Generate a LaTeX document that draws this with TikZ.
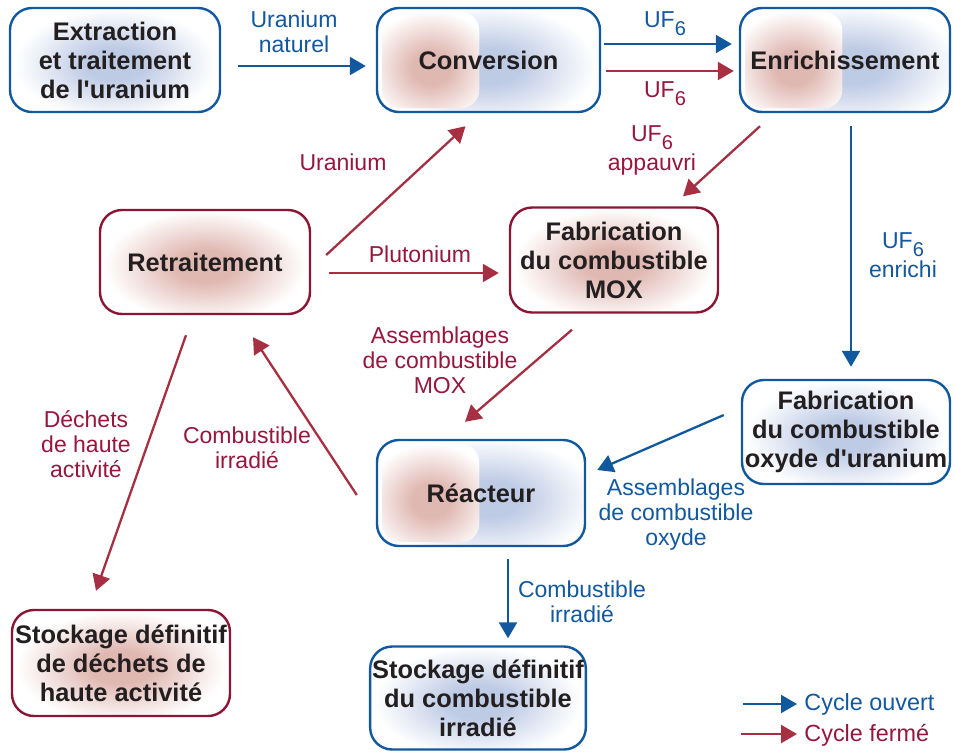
\documentclass[tikz,border=0pt]{standalone}
\usepackage{fontspec}
\setmainfont{Liberation Sans}[Ligatures=TeXOff]
\usetikzlibrary{arrows.meta,calc}
\definecolor{cycBlue}{RGB}{18,88,158}
\definecolor{cycRed}{RGB}{166,48,66}
\definecolor{cycRedTxt}{RGB}{150,22,62}
\definecolor{cycRedBd}{RGB}{140,20,52}
\definecolor{glowB}{RGB}{190,203,229}
\definecolor{glowR}{RGB}{224,184,178}
\definecolor{boxTxt}{RGB}{35,31,32}
\pgfdeclareradialshading{glowBs}{\pgfpoint{0bp}{0bp}}{color(0bp)=(glowB); color(7bp)=(glowB); color(24bp)=(white); color(50bp)=(white)}
\pgfdeclareradialshading{glowRs}{\pgfpoint{0bp}{0bp}}{color(0bp)=(glowR); color(7bp)=(glowR); color(24bp)=(white); color(50bp)=(white)}
\newcommand\ufSix{UF\raisebox{-4pt}{\fontsize{10}{10}\selectfont 6}}
% glows drawn inside the boxes
\newcommand\glowAt[4]{\shade[shading=#1] ($#2+(-#3,-#4)$) rectangle ($#2+(#3,#4)$);}
\newcommand\glowOne[1]{\glowAt{#1}{(path picture bounding box.center)+(0,-2pt)}{52pt}{29pt}}
\newcommand\glowMix{%
  \glowAt{glowBs}{(path picture bounding box.west)+(64pt,-3pt)}{48pt}{32pt}
  \begin{scope}
    \clip[rounded corners=9pt] ($(path picture bounding box.south west)+(2.5pt,2pt)$)
      rectangle ($(path picture bounding box.north west)+(51pt,-2pt)$);
    \fill[white] (path picture bounding box.south west) rectangle (path picture bounding box.north east);
    \glowAt{glowRs}{(path picture bounding box.west)+(27pt,-4pt)}{34pt}{30pt}
  \end{scope}}
\begin{document}
\begin{tikzpicture}[x=0.5pt,y=-0.5pt,
    cycBox/.style={rounded corners=11pt, line width=1.2pt, align=center, inner sep=1pt,
        font=\fontsize{12.7}{14.5}\selectfont\bfseries, text=boxTxt,
        minimum width=105pt, minimum height=52pt},
    cycBoxB/.style={cycBox, draw=cycBlue, path picture={\glowOne{glowBs}}},
    cycBoxR/.style={cycBox, draw=cycRedBd, path picture={\glowOne{glowRs}}},
    cycBoxM/.style={cycBox, draw=cycBlue, path picture={\glowMix}},
    cycArrB/.style={-{Triangle[length=8pt,width=9pt]}, line width=1.15pt, draw=cycBlue},
    cycArrR/.style={-{Triangle[length=8pt,width=9pt]}, line width=1.15pt, draw=cycRed},
    cycLblB/.style={font=\fontsize{11.5}{12.5}\selectfont, text=cycBlue, align=center, inner sep=0pt},
    cycLblR/.style={font=\fontsize{11.5}{12.5}\selectfont, text=cycRedTxt, align=center, inner sep=0pt},
]
\useasboundingbox (0,0) rectangle (954,752);
% boxes
\node[cycBoxB] (extr) at (115,60) {Extraction\\et traitement\\de l'uranium};
\node[cycBoxM, minimum width=111.5pt] (conv) at (488.5,60) {Conversion};
\node[cycBoxM] (enr) at (845,60) {Enrichissement};
\node[cycBoxR] (retr) at (205,262) {Retraitement};
\node[cycBoxR, minimum width=104pt, minimum height=52.5pt] (mox) at (614,260) {Fabrication\\du combustible\\MOX};
\node[cycBoxB, minimum width=104pt] (oxy) at (846,432) {Fabrication\\du combustible\\oxyde d'uranium};
\node[cycBoxM, minimum width=104pt, minimum height=53pt] (reac) at (481,493) {Réacteur};
\node[cycBoxR, minimum width=109pt, minimum height=53pt] (dech) at (121,663) {Stockage définitif\\de déchets de\\haute activité};
\node[cycBoxB, minimum width=106.5pt, minimum height=51.5pt] (stor) at (478,698) {Stockage définitif\\du combustible\\irradié};
% open cycle
\draw[cycArrB] ($(extr.east)+(17,6)$) -- ($(conv.west)+(-10,6)$);
\node[cycLblB] (lNat) at (294,32) {Uranium\\naturel};
\draw[cycArrB] ($(conv.east)+(3,-16)$) -- ($(enr.west)+(-7,-16)$);
\node[cycLblB] (lUfB) at (665,24) {\ufSix};
\draw[cycArrB] ($(enr.south)+(6,13)$) -- ($(oxy.north)+(5,-12)$);
\node[cycLblB] (lEnr) at (903,255) {\ufSix\\[2pt]enrichi};
\draw[cycArrB] ($(oxy.west)+(-17,-17)$) -- ($(reac.east)+(11,-23)$);
\node[cycLblB] (lOxy) at (676,515) {Assemblages\\de combustible\\oxyde};
\draw[cycArrB] ($(reac.south)+(27,12)$) -- ($(stor.north)+(30,-7)$);
\node[cycLblB] (lIrrB) at (582,602) {Combustible\\irradié};
% closed cycle
\draw[cycArrR] ($(conv.east)+(5,11)$) -- ($(enr.west)+(-5,11)$);
\node[cycLblR] (lUfR) at (665,94) {\ufSix};
\draw[cycArrR] ($(enr.south)+(-85,13)$) -- ($(mox.north)+(69,-10)$);
\node[cycLblR] (lApp) at (652,150) {\ufSix\\[2pt]appauvri};
\draw[cycArrR] ($(retr.east)+(15,-7)$) -- ($(conv.south)+(-23,13)$);
\node[cycLblR] (lUr) at (343,162) {Uranium};
\draw[cycArrR] ($(retr.east)+(18,11)$) -- ($(mox.west)+(-10,13)$);
\node[cycLblR] (lPu) at (420,254) {Plutonium};
\draw[cycArrR] ($(mox.south)+(-42,16)$) -- ($(reac.north)+(-16,-17)$);
\node[cycLblR] (lMox) at (440,360) {Assemblages\\de combustible\\MOX};
\draw[cycArrR] ($(reac.west)+(-19,2)$) -- ($(retr.south)+(48,22)$);
\node[cycLblR] (lIrrR) at (247,448) {Combustible\\irradié};
\draw[cycArrR] ($(retr.south)+(-19,20)$) -- ($(dech.north)+(-25,-18)$);
\node[cycLblR] (lDech) at (86,444) {Déchets\\de haute\\activité};
% legend
\coordinate (lgB1) at (743,704);
\coordinate (lgB2) at (797,704);
\coordinate (lgR1) at (741,734);
\coordinate (lgR2) at (797,734);
\draw[cycArrB] (lgB1) -- (lgB2);
\draw[cycArrR] (lgR1) -- (lgR2);
\node[cycLblB, anchor=west, font=\fontsize{11.7}{13}\selectfont] (lgBt) at (804,704) {Cycle ouvert};
\node[cycLblR, anchor=west, font=\fontsize{11.7}{13}\selectfont] (lgRt) at (804,735) {Cycle fermé};
\end{tikzpicture}
\end{document}
